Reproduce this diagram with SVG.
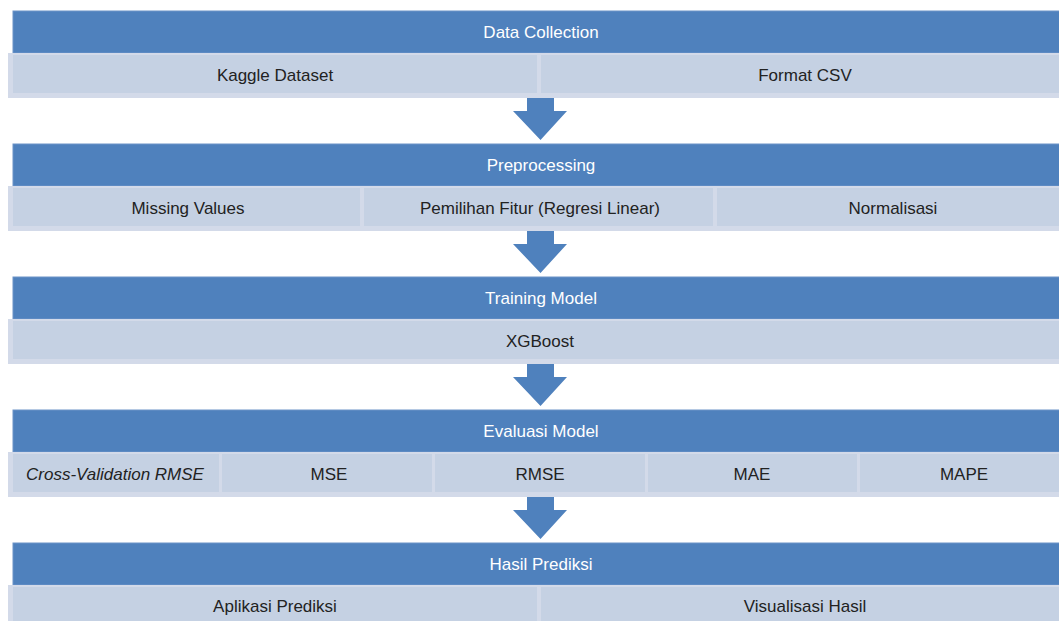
<svg xmlns="http://www.w3.org/2000/svg" width="1059" height="621" viewBox="0 0 1059 621">
<style>
.hd{fill:#4F81BD;stroke:#6C93C8;stroke-width:1}
.so{fill:#D3DAE9}
.si{fill:#C5D1E3}
.ht{font-family:"Liberation Sans",Arial,sans-serif;font-size:17px;fill:#FFFFFF;text-anchor:middle}
.st{font-family:"Liberation Sans",Arial,sans-serif;font-size:17px;fill:#222222;text-anchor:middle}
.ar{fill:#4F81BD}
</style>
<defs>
<path id="arrow" class="ar" d="M527,97 H554 V111 H567 L540.5,140 L513,111 H527 Z"/>
</defs>
<rect width="1059" height="621" fill="#FFFFFF"/>
<g id="connectors">
<use href="#arrow"/>
<use href="#arrow" y="133"/>
<use href="#arrow" y="266"/>
<use href="#arrow" y="399"/>
</g>
<g id="stage1">
<rect class="hd" x="13" y="11" width="1060" height="42"/>
<text class="ht" x="541" y="38">Data Collection</text>
<rect class="so" x="8" y="53" width="1063" height="45"/>
<rect class="si" x="13" y="55" width="524" height="38"/>
<rect class="si" x="541" y="55" width="525" height="38"/>
<text class="st" x="275" y="81">Kaggle Dataset</text>
<text class="st" x="805" y="81">Format CSV</text>
</g>
<g id="stage2">
<rect class="hd" x="13" y="144" width="1060" height="42"/>
<text class="ht" x="541" y="171">Preprocessing</text>
<rect class="so" x="8" y="186" width="1063" height="45"/>
<rect class="si" x="13" y="188" width="347" height="38"/>
<rect class="si" x="364" y="188" width="349" height="38"/>
<rect class="si" x="717" y="188" width="349" height="38"/>
<text class="st" x="188" y="214">Missing Values</text>
<text class="st" x="540" y="214">Pemilihan Fitur (Regresi Linear)</text>
<text class="st" x="893" y="214">Normalisasi</text>
</g>
<g id="stage3">
<rect class="hd" x="13" y="277" width="1060" height="42"/>
<text class="ht" x="541" y="304">Training Model</text>
<rect class="so" x="8" y="319" width="1063" height="45"/>
<rect class="si" x="13" y="321" width="1053" height="38"/>
<text class="st" x="540" y="347">XGBoost</text>
</g>
<g id="stage4">
<rect class="hd" x="13" y="410" width="1060" height="42"/>
<text class="ht" x="541" y="437">Evaluasi Model</text>
<rect class="so" x="8" y="452" width="1063" height="45"/>
<rect class="si" x="13" y="454" width="206" height="38"/>
<rect class="si" x="222" y="454" width="210" height="38"/>
<rect class="si" x="435" y="454" width="210" height="38"/>
<rect class="si" x="648" y="454" width="209" height="38"/>
<rect class="si" x="860" y="454" width="206" height="38"/>
<text class="st" x="115" y="480" font-style="italic">Cross-Validation RMSE</text>
<text class="st" x="329" y="480">MSE</text>
<text class="st" x="540" y="480">RMSE</text>
<text class="st" x="752" y="480">MAE</text>
<text class="st" x="964" y="480">MAPE</text>
</g>
<g id="stage5">
<rect class="hd" x="13" y="543" width="1060" height="42"/>
<text class="ht" x="541" y="570">Hasil Prediksi</text>
<rect class="so" x="8" y="585" width="1063" height="45"/>
<rect class="si" x="13" y="587" width="524" height="38"/>
<rect class="si" x="541" y="587" width="525" height="38"/>
<text class="st" x="275" y="612">Aplikasi Prediksi</text>
<text class="st" x="805" y="612">Visualisasi Hasil</text>
</g>
</svg>
